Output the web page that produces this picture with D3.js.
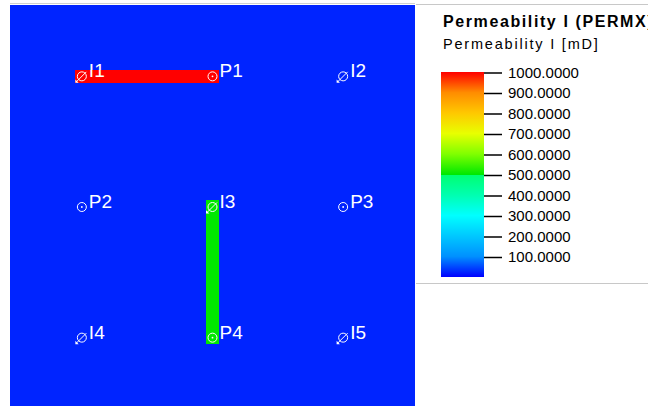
<!DOCTYPE html>
<html>
<head>
<meta charset="utf-8">
<script src="https://cdn.jsdelivr.net/npm/d3@7"></script>
<style>
  html, body { margin: 0; padding: 0; background: #ffffff; }
  svg { display: block; }
</style>
</head>
<body>
<svg id="chart" width="648" height="406"></svg>
<script>
// Grid dimensions (cells) of the reservoir model
const nCols = 31;
const nRows = 31;

// Matrix permeability [mD] and high-permeability streaks
const backgroundPerm = 25;
const streakCells = [
  // horizontal streak I1 -> P1
  { col0: 5, col1: 15, row0: 5, row1: 5, perm: 1000 },
  // vertical streak I3 -> P4
  { col0: 15, col1: 15, row0: 15, row1: 25, perm: 500 }
];

// Wells
const wellNames = ["I1", "P1", "I2", "P2", "I3", "P3", "I4", "P4", "I5"];
const wellCols  = [5, 15, 25, 5, 15, 25, 5, 15, 25];
const wellRows  = [5, 5, 5, 15, 15, 15, 25, 25, 25];
const wellTypes = ["inj", "prod", "inj", "prod", "inj", "prod", "inj", "prod", "inj"];

// Colour legend
const legendTitle = "Permeability I (PERMX)";
const legendUnit = "Permeability I [mD]";
const legendTicks = [1000, 900, 800, 700, 600, 500, 400, 300, 200, 100];
const colorStopValues = [0, 100, 200, 300, 400, 499.9, 500, 600, 700, 800, 900, 1000];
const colorStopColors = ["#0000ff", "#0090ff", "#00c8ff", "#00ffff", "#00ffb0", "#00ff70",
                         "#00e800", "#80ff00", "#e8ff00", "#ffc800", "#ff8c00", "#ff0000"];

const svg = d3.select("#chart");

const permColor = d3.scaleLinear()
  .domain(colorStopValues)
  .range(colorStopColors)
  .clamp(true);

// Cell scales
const x = d3.scaleLinear().domain([0, nCols]).range([10, 415]);
const cell = x(1) - x(0);
const y = d3.scaleLinear().domain([0, nRows]).range([4.5, 4.5 + nRows * cell]);

const field = svg.append("g").attr("shape-rendering", "crispEdges");

// Matrix
field.append("rect")
  .attr("x", x(0)).attr("y", y(0))
  .attr("width", x(nCols) - x(0)).attr("height", y(nRows) - y(0))
  .attr("fill", permColor(backgroundPerm));

// Streaks
field.selectAll("rect.streak")
  .data(streakCells)
  .join("rect")
  .attr("class", "streak")
  .attr("x", d => x(d.col0))
  .attr("y", d => y(d.row0))
  .attr("width", d => x(d.col1 + 1) - x(d.col0))
  .attr("height", d => y(d.row1 + 1) - y(d.row0))
  .attr("fill", d => permColor(d.perm));

// Frame line on the top edge of the model view
svg.append("line")
  .attr("x1", x(0)).attr("x2", x(nCols))
  .attr("y1", 3.5).attr("y2", 3.5)
  .attr("stroke", "#d0d0d0").attr("stroke-width", 1);

// Wells
const wells = wellNames.map((name, i) => ({
  name, type: wellTypes[i],
  cx: x(wellCols[i] + 0.5), cy: y(wellRows[i] + 0.5)
}));

const wg = svg.append("g").selectAll("g.well")
  .data(wells)
  .join("g")
  .attr("class", "well")
  .attr("transform", d => `translate(${d.cx},${d.cy})`);

wg.append("circle")
  .attr("r", 4.5)
  .attr("fill", "none")
  .attr("stroke", "#ffffff")
  .attr("stroke-width", 1);

// Producers: centre dot
wg.filter(d => d.type === "prod")
  .append("circle")
  .attr("r", 0.9)
  .attr("fill", "#ffffff");

// Injectors: slash with arrow tip pointing down-left
const inj = wg.filter(d => d.type === "inj");
inj.append("line")
  .attr("x1", -5.5).attr("y1", 5.5)
  .attr("x2", 4.5).attr("y2", -4.5)
  .attr("stroke", "#ffffff").attr("stroke-width", 1);
inj.append("path")
  .attr("d", "M-6.5,6.5 L-6.5,3.2 L-3.2,6.5 Z")
  .attr("fill", "#ffffff");

wg.append("text")
  .attr("x", 7)
  .attr("y", 1)
  .attr("fill", "#ffffff")
  .attr("font-family", "Liberation Sans, Arial, sans-serif")
  .attr("font-size", 19)
  .text(d => d.name);

// Legend panel
const legend = svg.append("g");
legend.append("line")
  .attr("x1", 416).attr("x2", 648).attr("y1", 4.5).attr("y2", 4.5)
  .attr("stroke", "#c8c8c8");
legend.append("line")
  .attr("x1", 416).attr("x2", 648).attr("y1", 283.5).attr("y2", 283.5)
  .attr("stroke", "#c8c8c8");

legend.append("text")
  .attr("x", 443).attr("y", 27)
  .attr("font-family", "Liberation Sans, Arial, sans-serif")
  .attr("font-weight", "bold")
  .attr("font-size", 16)
  .attr("letter-spacing", 1.6)
  .attr("fill", "#000000")
  .text(legendTitle);

legend.append("text")
  .attr("x", 443).attr("y", 49)
  .attr("font-family", "Liberation Sans, Arial, sans-serif")
  .attr("font-size", 14.5)
  .attr("letter-spacing", 1.8)
  .attr("fill", "#000000")
  .text(legendUnit);

// Colour bar
const cb = d3.scaleLinear().domain([0, 1000]).range([277, 72]);
const grad = svg.append("defs").append("linearGradient")
  .attr("id", "permGrad")
  .attr("x1", 0).attr("y1", 1).attr("x2", 0).attr("y2", 0);
grad.selectAll("stop")
  .data(colorStopValues)
  .join("stop")
  .attr("offset", d => d / 1000)
  .attr("stop-color", d => permColor(d));

legend.append("rect")
  .attr("x", 441).attr("y", cb(1000))
  .attr("width", 43).attr("height", cb(0) - cb(1000))
  .attr("fill", "url(#permGrad)");

const axis = d3.axisRight(cb)
  .tickValues(legendTicks)
  .tickSize(18)
  .tickPadding(6)
  .tickFormat(d3.format(".4f"));

const axG = legend.append("g")
  .attr("transform", "translate(484,0.5)")
  .call(axis);
axG.select(".domain").remove();
axG.selectAll(".tick line").attr("stroke", "#000000").attr("stroke-width", 1.5);
axG.selectAll(".tick text")
  .attr("font-family", "Liberation Sans, Arial, sans-serif")
  .attr("font-size", 15)
  .attr("fill", "#000000");
</script>
</body>
</html>
